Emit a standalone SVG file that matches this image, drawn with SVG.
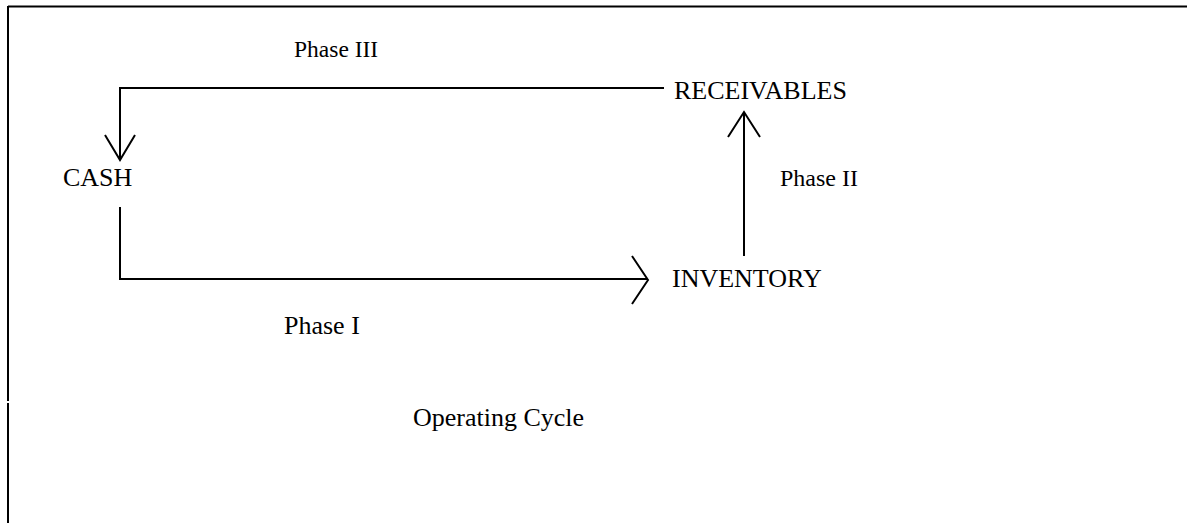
<svg xmlns="http://www.w3.org/2000/svg" width="1187" height="523" viewBox="0 0 1187 523">
<style>
.t{font-family:"Liberation Serif","Times New Roman",serif;fill:#000;}
.l{fill:none;stroke:#000;stroke-width:2;}
</style>
<rect width="1187" height="523" fill="#fff"/>
<g id="frame">
<path class="l" d="M8,6.5H1187M8,6V401M8,403V523"/>
</g>
<g id="connectors">
<path class="l" d="M664,88H120V159"/>
<path class="l" d="M105,135L120,160L135,135"/>
<path class="l" d="M120,207V279H647"/>
<path class="l" d="M632,256L648,280L632,304"/>
<path class="l" d="M744,256V113"/>
<path class="l" d="M728,137L744,112L760,137"/>
</g>
<g id="cash"><text class="t" x="63" y="186" font-size="26">CASH</text></g>
<g id="receivables"><text class="t" x="674" y="99" font-size="26">RECEIVABLES</text></g>
<g id="inventory"><text class="t" x="672" y="287" font-size="26">INVENTORY</text></g>
<g id="labels">
<text class="t" x="294" y="57" font-size="23.5">Phase III</text>
<text class="t" x="780" y="186" font-size="24">Phase II</text>
<text class="t" x="284" y="334" font-size="26">Phase I</text>
<text class="t" x="413" y="426" font-size="26">Operating Cycle</text>
</g>
</svg>
